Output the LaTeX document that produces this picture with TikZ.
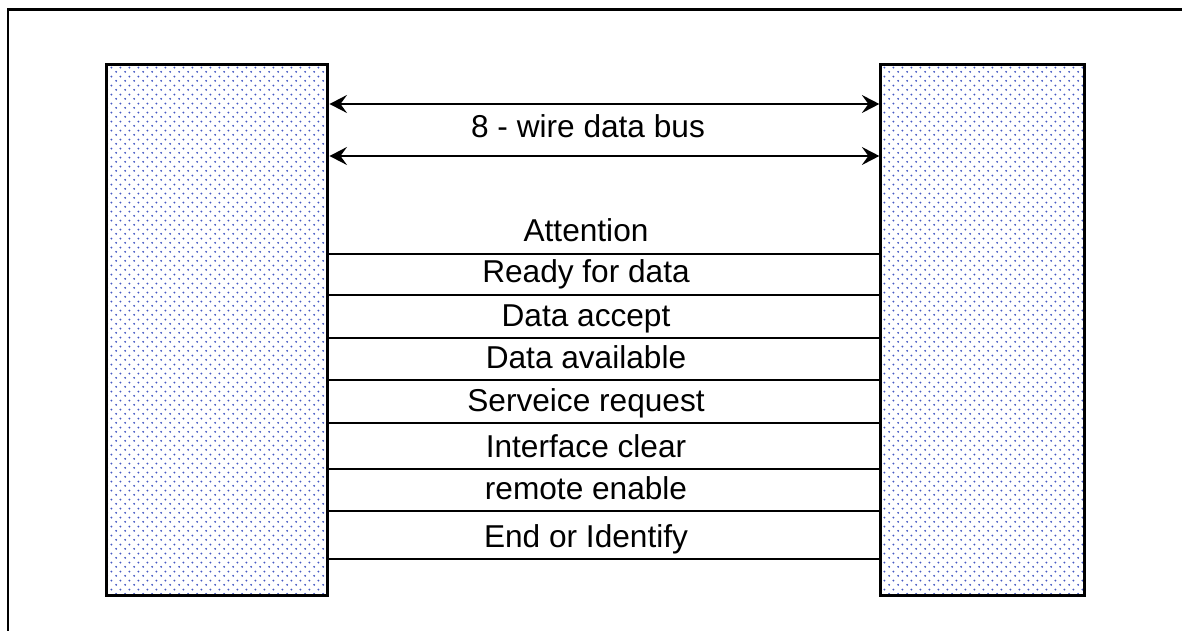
\documentclass[tikz,border=0pt]{standalone}
\usepackage{fontspec}
\setmainfont{Liberation Sans}
\usetikzlibrary{arrows.meta,positioning,patterns.meta}
\definecolor{dotblue}{RGB}{70,90,195}
\tikzdeclarepattern{
  name=unitdots, type=uncolored,
  bottom left={(0pt,0pt)}, top right={(5pt,5pt)},
  tile size={(5pt,5pt)},
  code={\fill (1.25pt,1.25pt) circle (0.6pt); \fill (3.75pt,3.75pt) circle (0.6pt);}
}
\begin{document}
\begin{tikzpicture}[
    x=0.02cm, y=-0.02cm,
    font=\fontsize{18}{21}\selectfont,
    node distance=0mm,
    unit/.style={draw, line width=1.7pt, pattern=unitdots, pattern color=dotblue, minimum height=10.64cm, inner sep=0pt},
    wire/.style={line width=1.1pt},
    bus/.style={{Stealth[length=3.5mm, width=3.6mm, inset=1.3mm]}-{Stealth[length=3.5mm, width=3.6mm, inset=1.3mm]}, line width=1.1pt},
    sig/.style={anchor=base, inner sep=0pt}
]
\useasboundingbox (0,0) rectangle (1182,631);
\draw[line width=1.7pt] (8,631) -- (8,9.5) -- (1182,9.5);

\node[unit, minimum width=4.44cm] (lhs) at (217,330) {};
\node[unit, minimum width=4.08cm, right=11cm of lhs] (rhs) {};

% data bus
\coordinate (b1) at (0,104);
\coordinate (b2) at (0,156);
\draw[bus] (lhs.east |- b1) -- (rhs.west |- b1);
\draw[bus] (lhs.east |- b2) -- (rhs.west |- b2);
\node[sig] (buslbl) at (588,138) {8 - wire data bus};

% control lines
\foreach \i/\y/\txt in {1/254/Attention, 2/295/Ready for data, 3/338/Data accept, 4/380/Data available, 5/423/Serveice request, 6/469/Interface clear, 7/511/remote enable, 8/559/End or Identify}{
  \coordinate (s\i) at (0,\y);
  \draw[wire] (lhs.east |- s\i) -- (rhs.west |- s\i);
  \node[sig] (lbl\i) at (586,{\y-12}) {\txt};
}
\end{tikzpicture}
\end{document}
